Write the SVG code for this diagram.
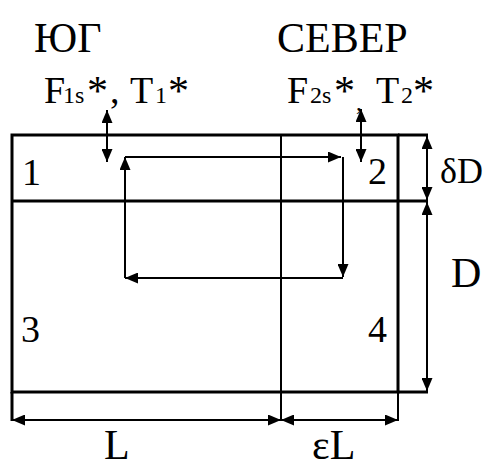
<svg xmlns="http://www.w3.org/2000/svg" width="492" height="462" viewBox="0 0 492 462" font-family="'Liberation Serif','Times New Roman',serif">
<style>
text{font-family:"Liberation Serif","Times New Roman",serif;fill:#000}
.big{font-size:42px}
.mid{font-size:38px}
.ast{font-size:42px}
.sub{font-size:24px}
.thick{stroke:#000;stroke-width:3;fill:none}
.thin{stroke:#000;stroke-width:2;fill:none}
.arr{marker-end:url(#ah)}
.dbl{marker-start:url(#ah);marker-end:url(#ah)}
</style>
<defs>
<marker id="ah" viewBox="0 0 13 11" markerWidth="13" markerHeight="11" refX="13" refY="5.5" orient="auto-start-reverse" markerUnits="userSpaceOnUse">
<path d="M0,0 L13,5.5 L0,11 z" fill="#000"/>
</marker>
</defs>
<rect width="492" height="462" fill="#fff"/>

<g id="frame">
<rect class="thick" x="12" y="135" width="386" height="257"/>
<line class="thick" x1="398" y1="135" x2="428" y2="135"/>
<line class="thick" x1="12" y1="201" x2="428" y2="201"/>
<line class="thick" x1="398" y1="392" x2="428" y2="392"/>
<line class="thin" x1="281" y1="135" x2="281" y2="421"/>
<line class="thick" x1="12" y1="392" x2="12" y2="421"/>
<line class="thin" x1="398" y1="392" x2="398" y2="421"/>
</g>

<g id="connectors">
<line class="thin dbl" x1="107" y1="110" x2="107" y2="162"/>
<line class="thin dbl" x1="361" y1="109" x2="361" y2="162"/>
<line class="thin arr" x1="125" y1="278" x2="125" y2="157"/>
<line class="thin arr" x1="125" y1="157" x2="341" y2="157"/>
<line class="thin arr" x1="343" y1="157" x2="343" y2="277"/>
<line class="thin arr" x1="343" y1="278" x2="125" y2="278"/>
<line class="thin dbl" x1="427" y1="136" x2="427" y2="200"/>
<line class="thin dbl" x1="427" y1="202" x2="427" y2="391"/>
<line class="thin dbl" x1="12" y1="420" x2="281" y2="420"/>
<line class="thin dbl" x1="281" y1="420" x2="398" y2="420"/>
</g>

<g id="south">
<text class="big" x="34" y="52">ЮГ</text>
<text class="mid" x="44" y="103">F</text>
<text class="sub" x="63" y="103">1s</text>
<text class="ast" x="87" y="105">*</text>
<text class="mid" x="110" y="103">,</text>
<text class="mid" x="130" y="103">T</text>
<text class="sub" x="155" y="103">1</text>
<text class="ast" x="168" y="105">*</text>
</g>

<g id="north">
<text class="big" x="277" y="52">СЕВЕР</text>
<text class="mid" x="287" y="103">F</text>
<text class="sub" x="310" y="103">2s</text>
<text class="ast" x="334" y="105">*</text>
<text class="sub" x="356" y="110">,</text>
<text class="mid" x="376" y="103">T</text>
<text class="sub" x="401" y="103">2</text>
<text class="ast" x="413" y="105">*</text>
</g>

<g id="region1"><text class="mid" x="22" y="185">1</text></g>
<g id="region2"><text class="mid" x="368" y="184">2</text></g>
<g id="region3"><text class="mid" x="21" y="342">3</text></g>
<g id="region4"><text class="mid" x="368" y="342">4</text></g>

<g id="dims">
<text x="440" y="183" style="font-size:36px">δD</text>
<text class="big" x="451" y="287">D</text>
<text class="big" x="104" y="459">L</text>
<text class="big" x="312" y="459">εL</text>
</g>
</svg>
